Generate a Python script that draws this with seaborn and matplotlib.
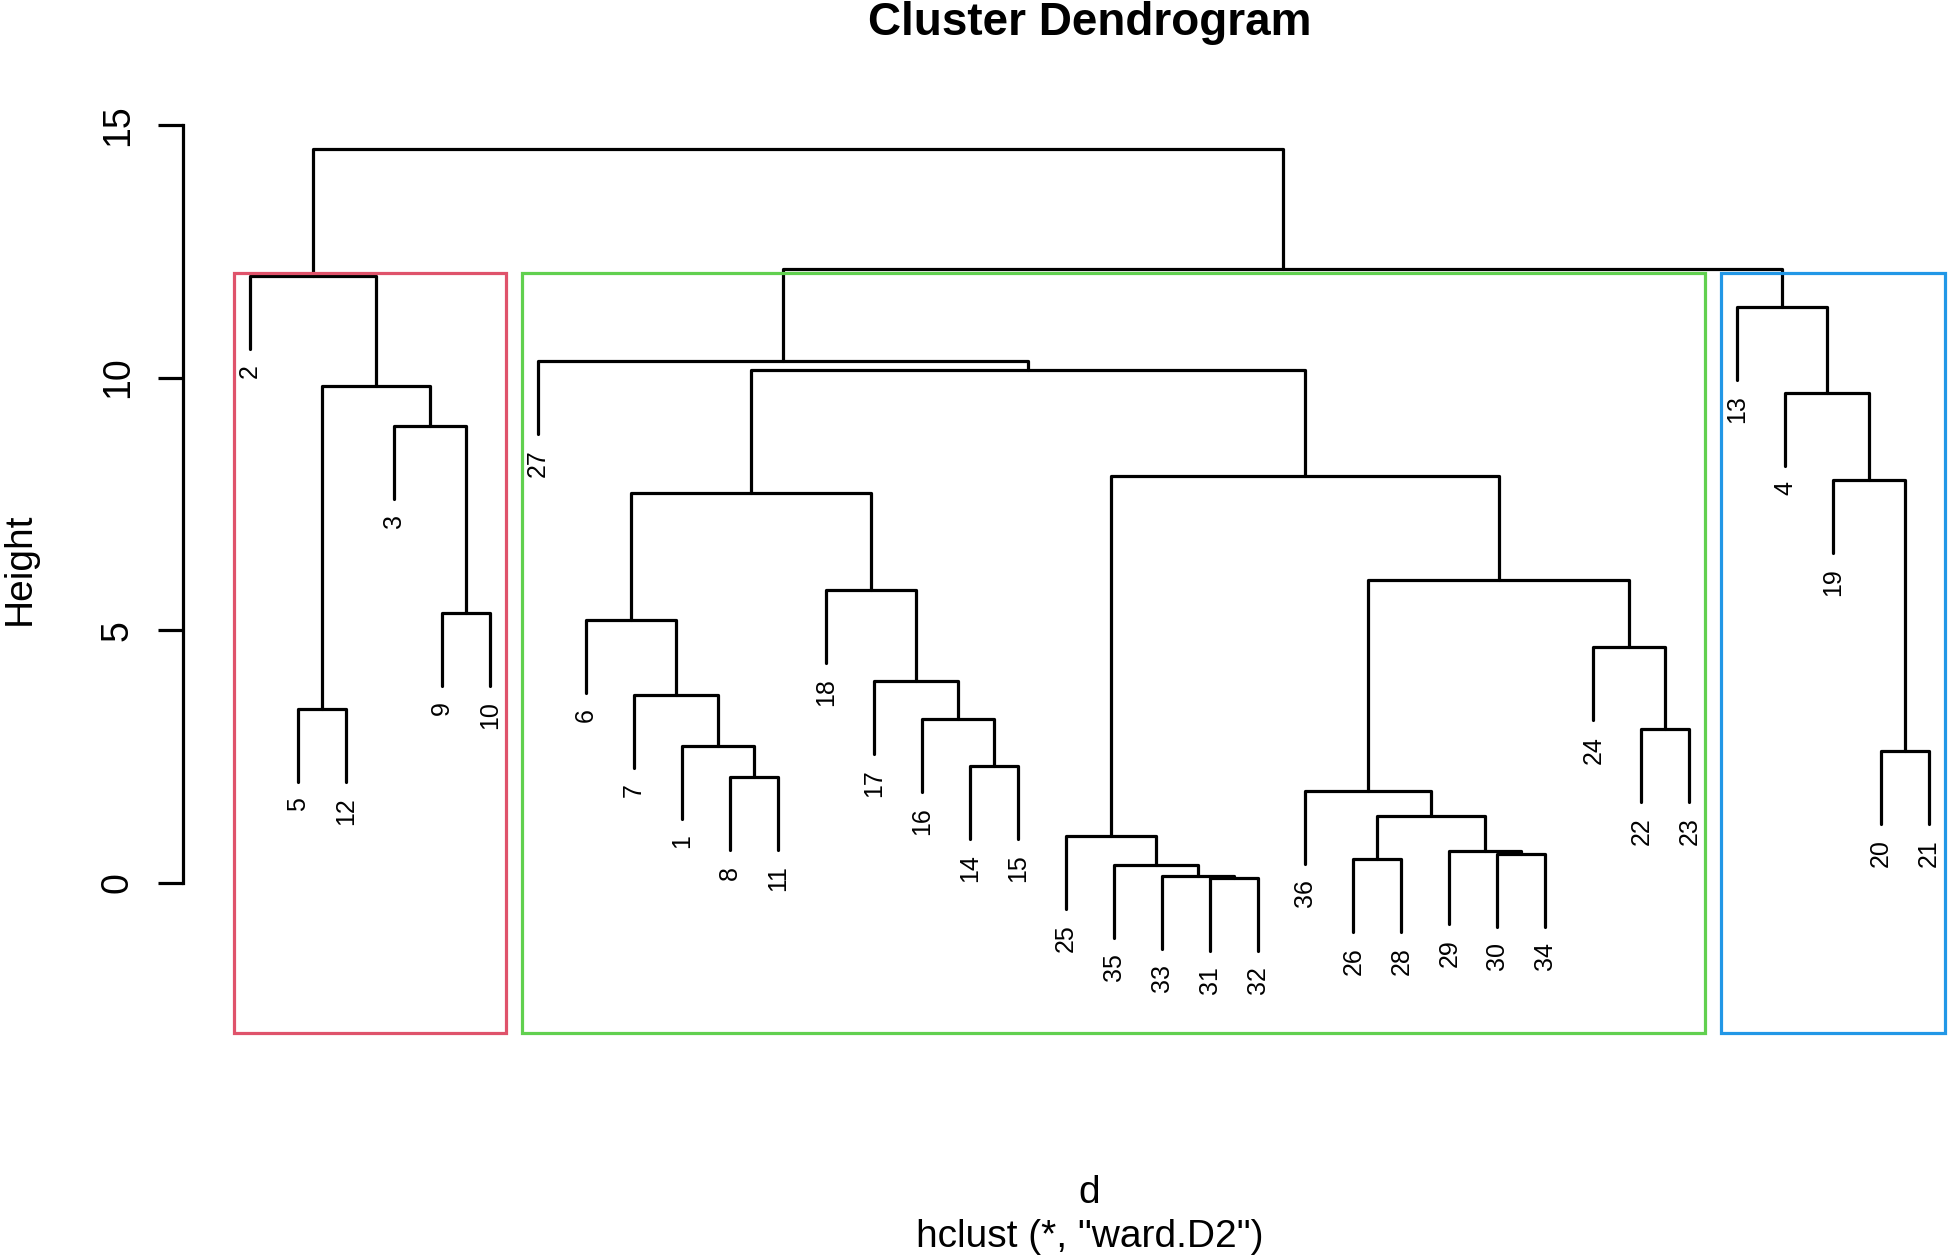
import matplotlib
matplotlib.use("Agg")
import matplotlib.pyplot as plt
import numpy as np
import pandas as pd
import seaborn as sns
from matplotlib.patches import Rectangle

# ==========================================
# data: hclust(d, "ward.D2")
# ==========================================
LEAF_ORDER = [2, 5, 12, 3, 9, 10, 27, 6, 7, 1, 8, 11, 18, 17, 16, 14, 15,
              25, 35, 33, 31, 32, 36, 26, 28, 29, 30, 34, 24, 22, 23,
              13, 4, 19, 20, 21]

# R merge matrix: negative = observation, positive = earlier merge step
MERGE_LEFT = [-31, -33, -35, -26, -30, -29, -25, 4, -36, -8, -14, -20,
              -1, -22, -16, -5, -7, -17, -24, -6, -9, -18, 9, 20, -19,
              7, -3, -4, 16, 24, -27, -13, -2, 31, 33]
MERGE_RIGHT = [-32, 1, 2, -28, -34, 5, 3, 6, 8, -11, -15, -21,
               10, -23, 11, -12, 13, 15, 14, 17, -10, 18, 19, 22, 12,
               23, 21, 25, 27, 26, 30, 28, 29, 32, 34]
MERGE_HEIGHT = [0.10, 0.14, 0.36, 0.47, 0.57, 0.64, 0.93, 1.33, 1.82, 2.09,
                2.32, 2.61, 2.71, 3.05, 3.25, 3.45, 3.72, 3.99, 4.66, 5.20,
                5.34, 5.79, 5.99, 7.71, 7.98, 8.05, 9.04, 9.70, 9.83, 10.15,
                10.32, 11.40, 12.00, 12.14, 14.53]

CLUSTER_K = 3
RECT_COLORS = ["#DF536B", "#61D04F", "#2297E6"]
Y_TICKS = [0, 5, 10, 15]

# layout (pixels of a 1953x1260 canvas)
W, H = 1953, 1260
AX_LEFT, AX_RIGHT, AX_TOP, AX_BOTTOM = 183, 1950, 114, 1033
X_LIM = (-0.4, -0.4 + (AX_RIGHT - AX_LEFT) / 47.97)
Y_LIM = (-(AX_BOTTOM - 883) / 50.55, (883 - AX_TOP) / 50.55)
LW = 2.3
FONT = ["Liberation Sans", "DejaVu Sans"]


def node_x(node, pos, mx):
    return pos[-node] if node < 0 else mx[node]


def leaves_under(node):
    if node < 0:
        return [-node]
    return leaves_under(MERGE_LEFT[node - 1]) + leaves_under(MERGE_RIGHT[node - 1])


sns.set_theme(style="white")
plt.rcParams["font.family"] = FONT
plt.rcParams["text.color"] = "black"

pos = {obs: i + 1 for i, obs in enumerate(LEAF_ORDER)}
hang = 0.1 * (max(MERGE_HEIGHT) - min(MERGE_HEIGHT))

# segments of every U of the dendrogram
rows, tips, mx = [], [], {}
for step, (a, b, h) in enumerate(zip(MERGE_LEFT, MERGE_RIGHT, MERGE_HEIGHT), start=1):
    xa, xb = node_x(a, pos, mx), node_x(b, pos, mx)
    ya = h - hang if a < 0 else MERGE_HEIGHT[a - 1]
    yb = h - hang if b < 0 else MERGE_HEIGHT[b - 1]
    for k, (x, y) in enumerate([(xa, ya), (xa, h), (xb, h), (xb, yb)]):
        rows.append({"seg": step, "order": k, "x": x, "y": y})
    for c, xc in ((a, xa), (b, xb)):
        if c < 0:
            tips.append((str(-c), xc, h - hang))
    mx[step] = (xa + xb) / 2
seg_df = pd.DataFrame(rows)

fig = plt.figure(figsize=(W / 100, H / 100), dpi=100)
ax = fig.add_axes([AX_LEFT / W, 1 - AX_BOTTOM / H,
                   (AX_RIGHT - AX_LEFT) / W, (AX_BOTTOM - AX_TOP) / H])
ax.set_facecolor("white")

sns.lineplot(data=seg_df, x="x", y="y", units="seg", estimator=None, sort=False,
             color="black", linewidth=LW, legend=False, ax=ax)

for lab, x, y in tips:
    ax.annotate(lab, (x, y), xytext=(0, -11), textcoords="offset points",
                rotation=90, ha="center", va="top", fontsize=18, color="black")

# rect.hclust(k = 3)
clusters = [len(MERGE_HEIGHT)]
while len(clusters) < CLUSTER_K:
    top = max(c for c in clusters if c > 0)
    clusters.remove(top)
    clusters += [MERGE_LEFT[top - 1], MERGE_RIGHT[top - 1]]
spans = sorted((min(pos[o] for o in leaves_under(c)), max(pos[o] for o in leaves_under(c)))
               for c in clusters)
hs = sorted(MERGE_HEIGHT, reverse=True)
rect_top = np.mean(hs[CLUSTER_K - 2:CLUSTER_K])
for (lo, hi), col in zip(spans, RECT_COLORS):
    ax.add_patch(Rectangle((lo - 0.34, Y_LIM[0]), hi - lo + 0.67, rect_top - Y_LIM[0],
                           fill=False, edgecolor=col, linewidth=LW, zorder=3,
                           clip_on=False))

ax.set_xlim(*X_LIM)
ax.set_ylim(*Y_LIM)
ax.set_xticks([])
ax.set_yticks(Y_TICKS)
ax.set_xlabel("")
ax.set_ylabel("")
sns.despine(ax=ax, top=True, right=True, bottom=True, left=False)
ax.spines["left"].set_bounds(0, 15)
ax.spines["left"].set_linewidth(LW)
ax.spines["left"].set_color("black")
ax.tick_params(axis="y", left=True, length=18, width=LW, color="black",
               labelsize=27, labelcolor="black", pad=16, labelrotation=90)
for t in ax.get_yticklabels():
    t.set_va("center")

fig.text(1089.5 / W, 1 - 35 / H, "Cluster Dendrogram", ha="center", va="baseline",
         fontsize=33, fontweight="bold", color="black")
fig.text(20 / W, 1 - 569 / H, "Height", rotation=90, ha="center", va="center",
         fontsize=28, color="black")
fig.text(1089.5 / W, 1 - 1203 / H, "d", ha="center", va="baseline", fontsize=28,
         color="black")
fig.text(1089.5 / W, 1 - 1247 / H, 'hclust (*, "ward.D2")', ha="center",
         va="baseline", fontsize=28, color="black")

fig.savefig("out.png", dpi=100, facecolor="white")
